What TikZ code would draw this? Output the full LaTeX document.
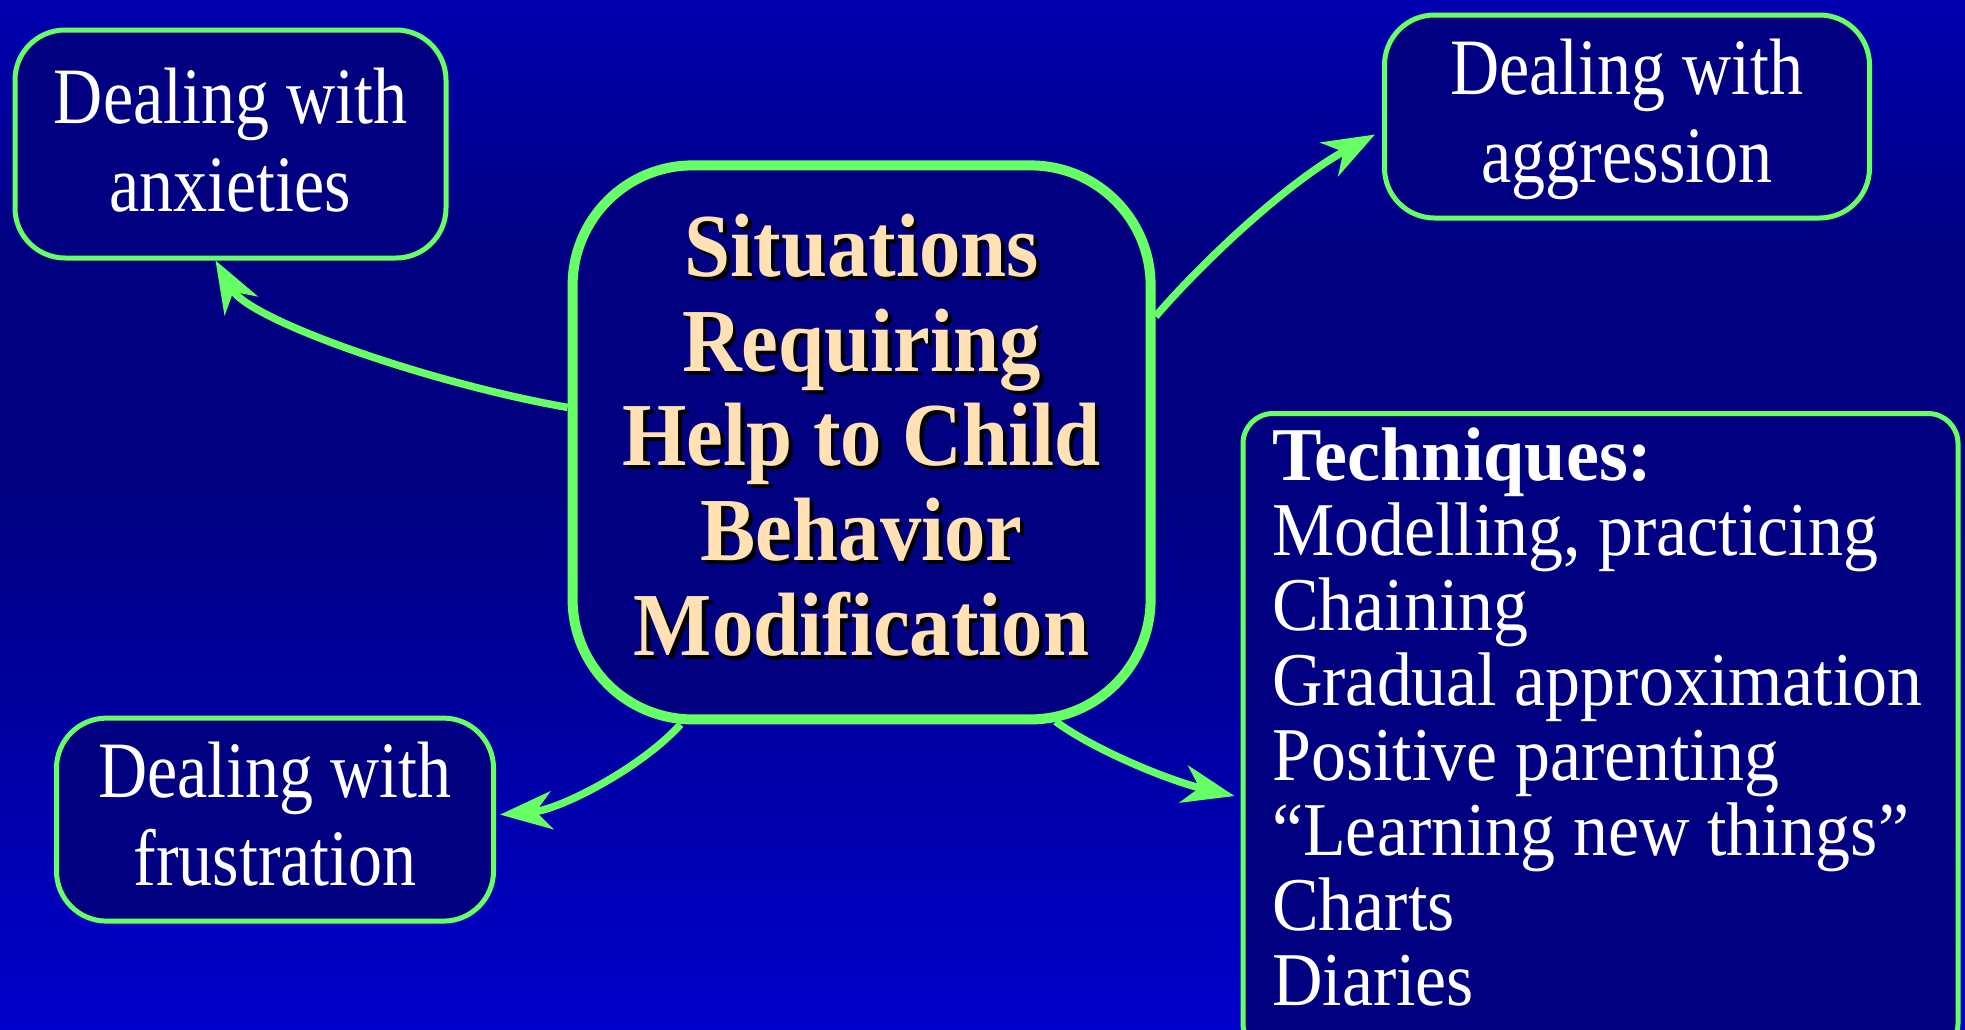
\documentclass[tikz,border=0pt]{standalone}
\usepackage{fontspec}
\setmainfont{Liberation Serif}
\usepackage{graphicx}
\usetikzlibrary{arrows.meta,calc}
\definecolor{bgtop}{HTML}{0000B0}
\definecolor{bgmid}{HTML}{000080}
\definecolor{bgbot}{HTML}{0000CC}
\definecolor{boxfill}{HTML}{000080}
\definecolor{lime}{HTML}{66FF66}
\definecolor{peach}{HTML}{FFE1B4}
\newcommand{\sidelabel}[1]{\scalebox{0.85}[1]{\fontsize{80}{88}\selectfont\begin{tabular}{@{}c@{}}#1\end{tabular}}}
\newcommand{\hubtab}{\begin{tabular}{@{}c@{}}Situations\\Requiring\\Help to Child\\Behavior\\Modification\end{tabular}}
\newcommand{\hublabel}{\scalebox{0.92}[1]{\fontsize{90}{94.6}\selectfont\bfseries
  \rlap{\hspace*{4pt}\raisebox{-4pt}[0pt][0pt]{\color{black}\hubtab}}{\color{peach}\hubtab}}}
\begin{document}
\begin{tikzpicture}[x=1pt,y=-1pt,
  sidebox/.style={draw=lime, line width=5pt, fill=boxfill, rounded corners=50pt, inner sep=0pt},
  techbox/.style={draw=lime, line width=5pt, fill=boxfill, rounded corners=30pt, inner sep=0pt},
  hubbox/.style={draw=lime, line width=10pt, fill=boxfill, rounded corners=120pt, inner sep=0pt},
  plaintext/.style={inner sep=0pt, text=white},
  link/.style={draw=lime, line width=7.5pt, -{Stealth[length=52pt,width=38pt,inset=16pt]}}
]
\useasboundingbox (0,0) rectangle (1965,1029);
\shade[top color=bgtop,bottom color=bgmid] (0,0) rectangle (1965,260);
\fill[bgmid] (0,259) rectangle (1965,481);
\shade[top color=bgmid,bottom color=bgbot] (0,480) rectangle (1965,1029);

% boxes
\node[sidebox, minimum width=431pt, minimum height=228pt] (anx) at (230.5,144) {};
\node[sidebox, minimum width=485pt, minimum height=203pt] (agg) at (1627,116.5) {};
\node[sidebox, minimum width=437pt, minimum height=203pt] (fru) at (275,819.6) {};
\node[techbox, anchor=north west, minimum width=715pt, minimum height=640pt] (tech) at (1240.5,411) {};
\node[hubbox, minimum width=578pt, minimum height=554pt] (hub) at (861.6,442.4) {};

% texts
\node[plaintext] (anxtext) at (230.5,150) {\sidelabel{Dealing with\\anxieties}};
\node[plaintext] (aggtext) at (1627,121) {\sidelabel{Dealing with\\aggression}};
\node[plaintext] (frutext) at (275,824) {\sidelabel{Dealing with\\frustration}};
\node[inner sep=0pt] (hubtitle) at (861.6,447) {\hublabel};
\node[plaintext, anchor=base west] (techtext) at (1272,480) {\scalebox{0.92}[1]{\fontsize{76}{74.7}\selectfont\begin{tabular}[t]{@{}l@{}}\scalebox{1.06}[1]{\textbf{Techniques:}}\\Modelling, practicing\\Chaining\\Gradual approximation\\Positive parenting\\“Learning new things”\\Charts\\Diaries\end{tabular}}};

% connectors
\draw[link] ($(hub.west)+(0,-35)$) .. controls +(-137,-24) and +(34,60) .. ($(anx.south)+(-15,0)$);
\draw[link] ($(hub.east)+(0,-126)$) .. controls +(50,-58) and +(-85,46) .. ($(agg.west)+(-7,18)$);
\draw[link] ($(hub.south)+(-181,0)$) .. controls +(-40,44) and +(60,-5) .. ($(fru.east)+(4,-5)$);
\draw[link] ($(hub.south)+(194,-3)$) .. controls +(39,29) and +(-64,-15) .. ($(tech.north west)+(-6,385)$);
\end{tikzpicture}
\end{document}
